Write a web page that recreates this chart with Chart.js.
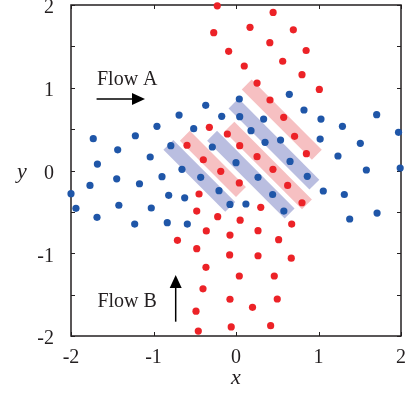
<!DOCTYPE html>
<html>
<head>
<meta charset="utf-8">
<script src="https://cdn.jsdelivr.net/npm/chart.js@4/dist/chart.umd.min.js"></script>
<style>
  body { margin: 0; background: #fff; }
</style>
</head>
<body>
<canvas id="c" width="408" height="396"></canvas>
<script>
// flow A (blue) particle positions
var flowA = [
  [-0.367,0.788],[-0.69,0.67],[-0.958,0.534],[-1.22,0.42],[-1.73,0.384],[-1.434,0.25],
  [-1.68,0.078],[-1.04,0.163],[-0.513,0.505],[-0.173,0.655],[0.04,0.864],[-0.79,0.3],
  [-0.655,0.014],[-0.897,-0.075],[-1.446,-0.1],[-0.287,0.284],[-0.428,-0.083],[0,0.094],
  [0.646,0.92],[0.824,0.731],[0.045,0.65],[0.335,0.622],[1.03,0.622],[1.705,0.675],
  [1.29,0.534],[0.182,0.481],[1.97,0.461],[0.54,0.368],[0.352,0.34],[1.02,0.38],
  [1.507,0.328],[0.655,0.11],[1.236,0.175],[1.58,0.006],[1.99,0.03],[0.267,-0.082],
  [0.864,-0.07],[-1.17,-0.16],[-1.77,-0.18],[-2.0,-0.28],[-1.94,-0.457],[-1.42,-0.42],
  [-1.685,-0.566],[-1.027,-0.453],[-0.816,-0.3],[-0.622,-0.33],[-1.228,-0.647],[-0.833,-0.63],
  [-0.59,-0.647],[-0.206,-0.244],[-0.073,-0.41],[1.058,-0.248],[1.313,-0.29],[0.444,-0.29],
  [0.12,-0.405],[0.58,-0.49],[1.71,-0.514],[1.378,-0.586]
];

// flow B (red) particle positions
var flowB = [
  [-0.227,1.99],[-0.27,1.665],[-0.089,1.44],[-0.323,0.522],[-0.105,0.441],[-0.594,0.305],
  [-0.396,0.13],[-0.185,-0.01],[0.045,0.3],[0.45,1.91],[0.17,1.73],[0.695,1.7],
  [0.41,1.545],[0.85,1.45],[0.1,1.263],[0.566,1.32],[0.8,1.158],[0.255,1.057],
  [1.01,0.98],[0.412,0.852],[0.578,0.643],[0.71,0.413],[0.853,0.203],[0.255,0.167],
  [0.448,0.014],[-0.448,-0.284],[-0.476,-0.49],[-0.222,-0.558],[0.05,-0.6],[-0.36,-0.73],
  [-0.073,-0.78],[-0.71,-0.844],[-0.476,-0.945],[-0.077,-1.02],[-0.364,-1.17],[0.04,-1.275],
  [-0.4,-1.43],[-0.073,-1.556],[-0.485,-1.7],[-0.058,-1.89],[-0.457,-1.94],[0.04,-0.15],
  [0.626,-0.18],[0.8,-0.39],[0.3,-0.445],[0.675,-0.647],[0.267,-0.727],[0.517,-0.836],
  [0.267,-1.03],[0.67,-1.06],[0.464,-1.275],[0.5,-1.553],[0.2,-1.653],[0.42,-1.875]
];

// diagonal bands: [x1, y1, x2, y2] of centre line
var bandsBlue = [
  [-0.82,0.31,-0.07,-0.44],
  [-0.29,0.42,0.65,-0.52],
  [-0.03,0.81,0.95,-0.17]
];
var bandsRed = [
  [-0.62,0.42,0.06,-0.26],
  [-0.08,0.53,0.86,-0.41],
  [0.13,1.04,0.98,0.19]
];

var xTicks = [-2, -1, 0, 1, 2];
var yTicks = [-2, -1.5, -1, -0.5, 0, 0.5, 1, 1.5, 2];

var ink = '#231f20';
var serif = '"Liberation Serif", "DejaVu Serif", serif';

function toPts(arr) {
  return arr.map(function (p) { return { x: p[0], y: p[1] }; });
}

var datasets = [
  { type: 'scatter', data: toPts(flowA), backgroundColor: '#1f56a8', borderWidth: 0,
    pointRadius: 3.6, order: 0, clip: false },
  { type: 'scatter', data: toPts(flowB), backgroundColor: '#ec2227', borderWidth: 0,
    pointRadius: 3.6, order: 0, clip: false }
];
bandsBlue.forEach(function (b) {
  datasets.push({ type: 'line', data: [{x: b[0], y: b[1]}, {x: b[2], y: b[3]}],
    borderColor: '#babee0', borderWidth: 14, pointRadius: 0, borderCapStyle: 'butt', order: 1 });
});
bandsRed.forEach(function (b) {
  datasets.push({ type: 'line', data: [{x: b[0], y: b[1]}, {x: b[2], y: b[3]}],
    borderColor: '#f6c0c2', borderWidth: 14, pointRadius: 0, borderCapStyle: 'butt', order: 1 });
});

// frame, inward ticks, axis titles and flow labels
var decor = {
  id: 'decor',
  beforeDatasetsDraw: function (chart) {
    var ctx = chart.ctx, a = chart.chartArea;
    var sx = chart.scales.x, sy = chart.scales.y;
    ctx.save();
    ctx.strokeStyle = ink;
    ctx.lineWidth = 1;
    xTicks.forEach(function (v) {
      var px = Math.round(sx.getPixelForValue(v)) + 0.5;
      ctx.beginPath();
      ctx.moveTo(px, a.bottom); ctx.lineTo(px, a.bottom - 4);
      ctx.moveTo(px, a.top); ctx.lineTo(px, a.top + 4);
      ctx.stroke();
    });
    yTicks.forEach(function (v) {
      var py = Math.round(sy.getPixelForValue(v)) + 0.5;
      ctx.beginPath();
      ctx.moveTo(a.left, py); ctx.lineTo(a.left + 4, py);
      ctx.moveTo(a.right, py); ctx.lineTo(a.right - 4, py);
      ctx.stroke();
    });
    ctx.lineWidth = 1.5;
    ctx.strokeRect(a.left, a.top, a.right - a.left, a.bottom - a.top);
    ctx.restore();
  },
  afterDraw: function (chart) {
    var ctx = chart.ctx;
    var sx = chart.scales.x, sy = chart.scales.y;
    function X(v) { return sx.getPixelForValue(v); }
    function Y(v) { return sy.getPixelForValue(v); }
    ctx.save();
    ctx.fillStyle = ink;
    ctx.strokeStyle = '#000';
    ctx.font = 'italic 22px ' + serif;
    ctx.textAlign = 'center';
    ctx.textBaseline = 'alphabetic';
    ctx.fillText('x', X(0), 384);
    ctx.fillText('y', 22, 178);

    ctx.font = '20px ' + serif;
    ctx.textAlign = 'left';
    ctx.fillText('Flow A', X(-1.685), Y(1.033));
    ctx.fillText('Flow B', X(-1.68), Y(-1.646));

    // arrow A (horizontal)
    ctx.fillStyle = '#000';
    ctx.lineWidth = 1.5;
    var ax0 = X(-1.69), ax1 = X(-1.103), ay = Y(0.864);
    ctx.beginPath(); ctx.moveTo(ax0, ay); ctx.lineTo(ax1 - 8, ay); ctx.stroke();
    ctx.beginPath(); ctx.moveTo(ax1, ay); ctx.lineTo(ax1 - 13, ay - 6);
    ctx.lineTo(ax1 - 13, ay + 6); ctx.closePath(); ctx.fill();

    // arrow B (vertical)
    var bx = X(-0.731), by0 = Y(-1.827), by1 = Y(-1.263);
    ctx.beginPath(); ctx.moveTo(bx, by0); ctx.lineTo(bx, by1 + 8); ctx.stroke();
    ctx.beginPath(); ctx.moveTo(bx, by1); ctx.lineTo(bx - 6, by1 + 13);
    ctx.lineTo(bx + 6, by1 + 13); ctx.closePath(); ctx.fill();
    ctx.restore();
  }
};

new Chart(document.getElementById('c'), {
  type: 'scatter',
  data: { datasets: datasets },
  options: {
    responsive: false,
    animation: false,
    devicePixelRatio: 1,
    layout: { padding: { left: 0, right: 7, top: 5, bottom: 0 } },
    plugins: { legend: { display: false }, tooltip: { enabled: false } },
    scales: {
      x: {
        type: 'linear', min: -2, max: 2,
        afterFit: function (s) { s.height = 60; s.paddingLeft = 0; s.paddingRight = 0; },
        afterBuildTicks: function (s) { s.ticks = xTicks.map(function (v) { return { value: v }; }); },
        grid: { display: false },
        border: { display: false },
        ticks: { color: ink, font: { family: serif, size: 20 }, padding: 2,
          callback: function (v) { return String(v); } }
      },
      y: {
        type: 'linear', min: -2, max: 2,
        afterFit: function (s) { s.width = 71; s.paddingTop = 0; s.paddingBottom = 0; },
        afterBuildTicks: function (s) { s.ticks = yTicks.map(function (v) { return { value: v }; }); },
        grid: { display: false },
        border: { display: false },
        ticks: { color: ink, font: { family: serif, size: 20 }, padding: 9, labelOffset: 3,
          callback: function (v) { return Number.isInteger(v) ? String(v) : ''; } }
      }
    }
  },
  plugins: [decor]
});
</script>
</body>
</html>
